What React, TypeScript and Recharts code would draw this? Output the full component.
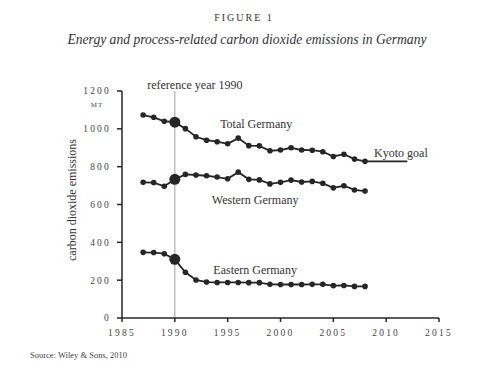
import React from 'react';
import { LineChart, Line, XAxis, YAxis, ReferenceLine, ReferenceDot } from 'recharts';

const years = [1987, 1988, 1989, 1990, 1991, 1992, 1993, 1994, 1995, 1996, 1997, 1998, 1999, 2000, 2001, 2002, 2003, 2004, 2005, 2006, 2007, 2008];
const totalGermany = [1073, 1061, 1040, 1035, 1001, 958, 940, 932, 921, 951, 911, 910, 884, 888, 900, 888, 887, 879, 854, 866, 840, 828];
const westernGermany = [717, 716, 696, 733, 759, 756, 752, 745, 736, 771, 733, 730, 709, 717, 729, 719, 722, 712, 688, 699, 677, 671];
const easternGermany = [347, 346, 340, 310, 242, 201, 190, 188, 188, 188, 187, 187, 178, 177, 177, 177, 178, 178, 171, 172, 167, 167];
const kyotoYears = [2008, 2012];
const kyotoGoal = [828, 828];
const referenceYear = 1990;
const xTicks = [1985, 1990, 1995, 2000, 2005, 2010, 2015];
const yTicks = [0, 200, 400, 600, 800, 1000, 1200];

const data: any[] = years.map((y, i) => ({
  year: y,
  total: totalGermany[i],
  west: westernGermany[i],
  east: easternGermany[i],
  kyoto: kyotoYears.includes(y) ? kyotoGoal[kyotoYears.indexOf(y)] : null,
}));
kyotoYears.forEach((y, i) => {
  if (!years.includes(y)) data.push({ year: y, total: null, west: null, east: null, kyoto: kyotoGoal[i] });
});

const INK = '#262626';
const FONT = '"Liberation Serif", "DejaVu Serif", serif';

const renderDot = (props: any) => {
  const { cx, cy, payload, index } = props;
  if (cx == null || cy == null) return <g key={index} />;
  const r = payload.year === referenceYear ? 5.5 : 2.8;
  return <circle key={index} cx={cx} cy={cy} r={r} fill={INK} stroke="none" />;
};

const tickStyle = { fontFamily: FONT, fontSize: 9.5, fill: '#444', letterSpacing: 2.2 };

const seriesLabel = (text: string) => ({
  value: text,
  position: 'center' as const,
  style: { fontFamily: FONT, fontSize: 12, fill: '#333' },
});

export default function App() {
  return (
    <div style={{ position: 'absolute', left: 0, top: 0, width: 487, height: 372, background: '#fff' }}>
      <LineChart width={487} height={372} data={data} margin={{ top: 91, right: 48, bottom: 24, left: 62 }}>
        <XAxis
          dataKey="year"
          type="number"
          domain={[1985, 2015]}
          ticks={xTicks}
          height={30}
          stroke={INK}
          strokeWidth={1.5}
          tickSize={4}
          tick={tickStyle}
          tickMargin={7}
        />
        <YAxis
          type="number"
          domain={[0, 1200]}
          ticks={yTicks}
          width={60}
          stroke={INK}
          strokeWidth={1.5}
          tickSize={5}
          tickMargin={6}
          tick={tickStyle}
        />
        <ReferenceLine
          x={referenceYear}
          stroke="#888"
          strokeWidth={0.8}
          label={{ value: 'reference year 1990', position: 'top', dx: 20, dy: 3, style: { fontFamily: FONT, fontSize: 12, fill: '#333' } }}
        />
        <Line dataKey="total" stroke={INK} strokeWidth={1.8} dot={renderDot} isAnimationActive={false} />
        <Line dataKey="west" stroke={INK} strokeWidth={1.8} dot={renderDot} isAnimationActive={false} />
        <Line dataKey="east" stroke={INK} strokeWidth={1.8} dot={renderDot} isAnimationActive={false} />
        <Line dataKey="kyoto" stroke={INK} strokeWidth={1.8} dot={false} connectNulls isAnimationActive={false} />
        <ReferenceDot x={1997.7} y={1026} r={0} stroke="none" label={seriesLabel('Total Germany')} />
        <ReferenceDot x={1997.6} y={624} r={0} stroke="none" label={seriesLabel('Western Germany')} />
        <ReferenceDot x={1997.6} y={254} r={0} stroke="none" label={seriesLabel('Eastern Germany')} />
        <ReferenceDot x={2011.4} y={876} r={0} stroke="none" label={seriesLabel('Kyoto goal')} />
      </LineChart>
      <svg width={487} height={372} style={{ position: 'absolute', left: 0, top: 0, pointerEvents: 'none' }}>
        <text x={244} y={21} textAnchor="middle" fontFamily={FONT} fontSize={10} letterSpacing={2} fill="#333">FIGURE 1</text>
        <text x={247} y={44} textAnchor="middle" fontFamily={FONT} fontSize={13.6} fontStyle="italic" fill="#333">Energy and process-related carbon dioxide emissions in Germany</text>
        <text x={97} y={107} textAnchor="middle" fontFamily={FONT} fontSize={7} letterSpacing={1} fill="#444">MT</text>
        <text x={76} y={200} transform="rotate(-90 76 200)" textAnchor="middle" fontFamily={FONT} fontSize={12} fill="#333">carbon dioxide emissions</text>
        <text x={30} y={358} fontFamily={FONT} fontSize={8.5} fill="#444">Source: Wiley &amp; Sons, 2010</text>
      </svg>
    </div>
  );
}
